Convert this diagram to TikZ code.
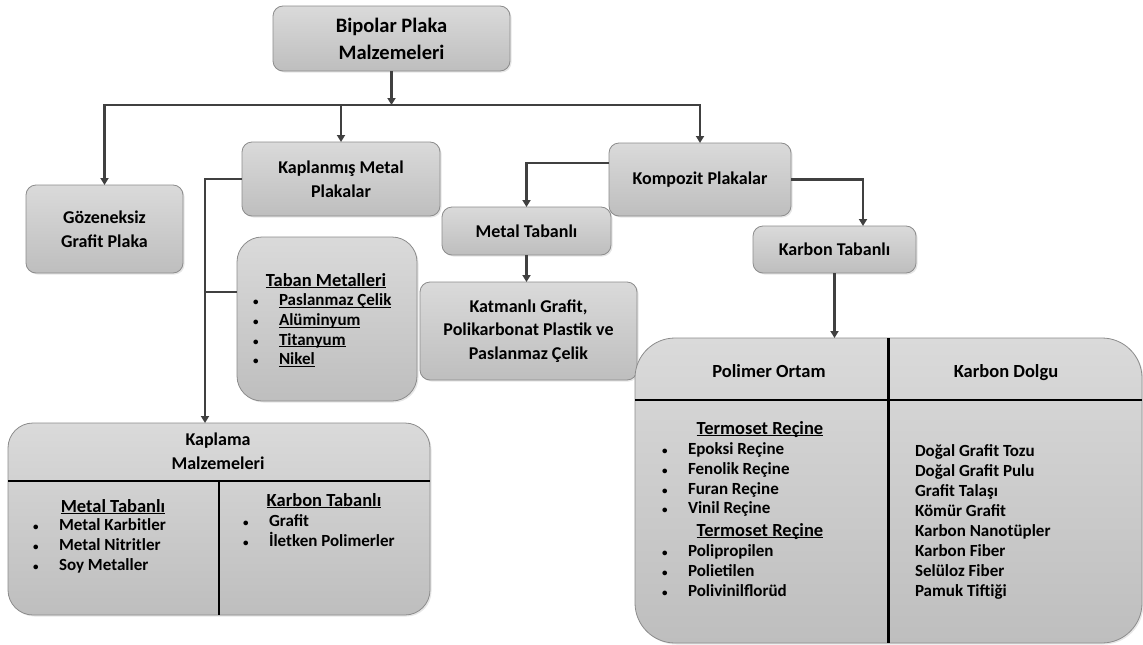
\documentclass[tikz,border=0pt]{standalone}
\usepackage{fontspec}
\setmainfont{Carlito}
\usetikzlibrary{arrows.meta,shadows}
\definecolor{boxtop}{RGB}{218,218,218}
\definecolor{boxbot}{RGB}{190,190,190}
\definecolor{bordercol}{RGB}{140,140,140}
\definecolor{linecol}{RGB}{64,64,64}
\newcommand\myul[1]{\underline{\raisebox{0pt}[\height][0pt]{#1}}}
\newcommand\bul{\makebox[27pt][l]{\hspace{1pt}\fontsize{11}{11}\selectfont •}}
\tikzset{
 box/.style={draw=bordercol, line width=0.8pt, rounded corners=10pt, top color=boxtop, bottom color=boxbot,
   inner sep=0pt, outer sep=0pt, align=center, font=\bfseries\fontsize{18}{23.5}\selectfont,
   drop shadow={opacity=0.2, shadow xshift=1.5pt, shadow yshift=-1.5pt}},
 txt/.style={inner sep=0pt, outer sep=0pt, font=\bfseries\fontsize{18}{24}\selectfont, align=center},
 hd/.style={inner sep=0pt, outer sep=0pt, font=\bfseries\fontsize{18.5}{24}\selectfont, text height=12.5pt, text depth=0pt},
 item/.style={inner sep=0pt, outer sep=0pt, anchor=west, font=\bfseries\fontsize{17}{20}\selectfont, text height=11.5pt, text depth=0pt},
 conn/.style={draw=linecol, line width=2.5pt},
 arr/.style={conn, -{Triangle[length=7pt,width=8pt]}},
 divider/.style={draw=black, line width=2.2pt},
}
\begin{document}
\begin{tikzpicture}[x=1pt,y=-1pt]
\useasboundingbox (0,0) rectangle (1143,645);
% boxes
\node[box, minimum width=237pt, minimum height=65pt, font=\bfseries\fontsize{20.5}{27}\selectfont] (bip) at (391.5,38.5) {Bipolar Plaka\\Malzemeleri};
\node[box, minimum width=157pt, minimum height=88pt] (goz) at (104.5,229) {Gözeneksiz\\Grafit Plaka};
\node[box, minimum width=198pt, minimum height=74pt] (kap) at (341,179) {Kaplanmış Metal\\Plakalar};
\node[box, minimum width=182pt, minimum height=73pt] (komp) at (700,179.5) {Kompozit Plakalar};
\node[box, minimum width=169pt, minimum height=48pt] (mt) at (526.5,231) {Metal Tabanlı};
\node[box, minimum width=163pt, minimum height=47pt] (kt) at (834.5,249.5) {Karbon Tabanlı};
\node[box, minimum width=217pt, minimum height=98pt] (kat) at (528.5,331) {Katmanlı Grafit,\\Polikarbonat Plastik ve\\Paslanmaz Çelik};
\node[box, minimum width=180pt, minimum height=164pt, rounded corners=25pt] (tab) at (327,319) {};
\node[box, minimum width=422pt, minimum height=192pt, rounded corners=25pt] (kml) at (219,519) {};
\node[box, minimum width=507pt, minimum height=305pt, rounded corners=40pt] (big) at (888.5,490.5) {};
% dividers
\draw[divider] (kml.west |- 0,481) -- (kml.east |- 0,481);
\draw[divider] (kml.south |- 0,481) -- (kml.south);
\draw[divider] (big.west |- 0,400) -- (big.east |- 0,400);
\draw[divider] (big.north) -- (big.south);
% Taban Metalleri
\node[hd] (tabh) at (326,280) {\myul{Taban Metalleri}};
\foreach \t [count=\i] in {Paslanmaz Çelik,Alüminyum,Titanyum,Nikel}
  \node[item] (tab\i) at (252,{300+(\i-1)*19.7}) {\bul\myul{\t}};
% Kaplama Malzemeleri
\node[txt] (kmlh) at (218,451) {Kaplama\\Malzemeleri};
\node[hd] (kmlmh) at (113,506) {\myul{Metal Tabanlı}};
\foreach \t [count=\i] in {Metal Karbitler,Metal Nitritler,Soy Metaller}
  \node[item] (kmlm\i) at (32,{525+(\i-1)*20}) {\bul\t};
\node[hd] (kmlkh) at (324,500) {\myul{Karbon Tabanlı}};
\foreach \t [count=\i] in {Grafit,İletken Polimerler}
  \node[item] (kmlk\i) at (242,{521+(\i-1)*19.5}) {\bul\t};
% big box
\node[hd] (polh) at (769,371) {Polimer Ortam};
\node[hd] (kdh) at (1006,371) {Karbon Dolgu};
\node[hd] (term1) at (760,428) {\myul{Termoset Reçine}};
\foreach \t [count=\i] in {Epoksi Reçine,Fenolik Reçine,Furan Reçine,Vinil Reçine}
  \node[item] (pa\i) at (660,{449+(\i-1)*19.7}) {\makebox[1pt]{}\bul\t};
\node[hd] (term2) at (760,530) {\myul{Termoset Reçine}};
\foreach \t [count=\i] in {Polipropilen,Polietilen,Polivinilflorüd}
  \node[item] (pb\i) at (660,{551+(\i-1)*20}) {\makebox[1pt]{}\bul\t};
\foreach \t [count=\i] in {Doğal Grafit Tozu,Doğal Grafit Pulu,Grafit Talaşı,Kömür Grafit,Karbon Nanotüpler,Karbon Fiber,Selüloz Fiber,Pamuk Tiftiği}
  \node[item] (kd\i) at (915,{451+(\i-1)*19.9}) {\t};
% connectors
\coordinate (j) at (391.5,105);
\draw[arr] (bip.south) -- (j);
\draw[arr] (j) -| (goz.north);
\draw[arr] (j) -| (komp.north);
\draw[arr] (kap.north |- j) -- (kap.north);
\draw[arr] ([yshift=16.5pt]komp.west) -| (mt.north);
\draw[arr] (komp.east) -| ([xshift=28.5pt]kt.north);
\draw[arr] (mt.south) -- (mt.south |- kat.north);
\draw[arr] (kt.south) -- (kt.south |- big.north);
\coordinate (vx) at (205,178);
\draw[arr] (kap.west) -| (vx |- kml.north);
\draw[conn] (vx |- 0,292) -- (tab.west |- 0,292);
\end{tikzpicture}
\end{document}
